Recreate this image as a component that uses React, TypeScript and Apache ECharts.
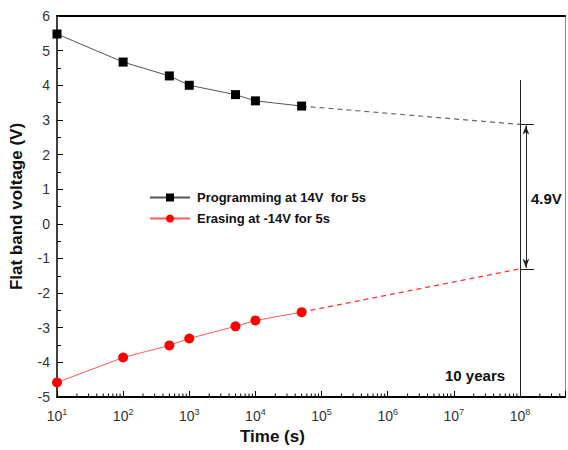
import React, { useEffect, useRef } from "react";
import * as echarts from "echarts";

const progTimes = [10, 100, 500, 1000, 5000, 10000, 50000];
const progValues = [5.48, 4.67, 4.27, 4.0, 3.73, 3.55, 3.4];
const eraseTimes = [10, 100, 500, 1000, 5000, 10000, 50000];
const eraseValues = [-4.58, -3.86, -3.51, -3.31, -2.96, -2.79, -2.55];
const extrapTimes = [50000, 1e8];
const progExtrap = [3.4, 2.87];
const eraseExtrap = [-2.55, -1.3];
const tenYears = 1e8;
const minorMultiples = [2, 3, 4, 5, 6, 7, 8, 9];
const minorDecades = [1e1, 1e2, 1e3, 1e4, 1e5, 1e6, 1e7];
const tailMinor = [2e8, 3e8, 4e8];

const FONT = "'Liberation Sans', Arial, sans-serif";

export default function App() {
  const ref = useRef<HTMLDivElement>(null);
  useEffect(() => {
    if (!ref.current) return;
    const chart = echarts.init(ref.current, null, { renderer: "svg" });
    const minorTicks: number[] = [];
    minorDecades.forEach((d) => minorMultiples.forEach((m) => minorTicks.push(m * d)));
    tailMinor.forEach((v) => minorTicks.push(v));

    const xLabel = (v: number) => {
      const e = Math.round(Math.log10(v));
      if (Math.abs(v / Math.pow(10, e) - 1) > 1e-6) return "";
      return `{b|10}{s|${e}}`;
    };

    chart.setOption({
      animation: false,
      textStyle: { fontFamily: FONT },
      grid: { left: 57, right: 1, top: 16, bottom: 53 },
      legend: {
        orient: "vertical",
        left: 144,
        top: 186,
        itemWidth: 40,
        itemHeight: 10,
        itemGap: 8,
        data: ["Programming at 14V  for 5s", "Erasing at -14V for 5s"],
        textStyle: { fontFamily: FONT, fontWeight: "bold", fontSize: 13, color: "#111", padding: [0, 0, 0, 2] },
      },
      xAxis: [
        {
          type: "log",
          logBase: 10,
          min: 10,
          max: 4.8e8,
          axisLine: { show: true, onZero: false, lineStyle: { color: "#000", width: 2 } },
          axisTick: { show: true, inside: true, length: 6, lineStyle: { color: "#000", width: 1 } },
          splitLine: { show: false },
          axisLabel: {
            margin: 10,
            formatter: xLabel,
            rich: {
              b: { fontSize: 14, color: "#333", fontFamily: FONT },
              s: { fontSize: 9, color: "#333", fontFamily: FONT, padding: [0, 0, 9, 0] },
            },
          },
        },
        {
          type: "log",
          logBase: 10,
          min: 10,
          max: 4.8e8,
          position: "top",
          axisLine: { show: true, onZero: false, lineStyle: { color: "#000", width: 2 } },
          axisTick: { show: false },
          axisLabel: { show: false },
          splitLine: { show: false },
        },
      ],
      yAxis: [
        {
          type: "value",
          min: -5,
          max: 6,
          interval: 1,
          axisLine: { show: true, onZero: false, lineStyle: { color: "#000", width: 1.5 } },
          axisTick: { show: true, inside: true, length: 6, lineStyle: { color: "#000" } },
          minorTick: { show: true, splitNumber: 2, length: 4, lineStyle: { color: "#000" } },
          splitLine: { show: false },
          axisLabel: { fontSize: 14, color: "#333", margin: 7, fontFamily: FONT },
          name: "Flat band voltage (V)",
          nameLocation: "middle",
          nameGap: 32,
          nameTextStyle: { fontSize: 17, fontWeight: "bold", color: "#111", fontFamily: FONT },
        },
        {
          type: "value",
          min: -5,
          max: 6,
          position: "right",
          axisLine: { show: true, onZero: false, lineStyle: { color: "#888", width: 1 } },
          axisTick: { show: false },
          axisLabel: { show: false },
          splitLine: { show: false },
        },
      ],
      graphic: [
        { type: "text", left: 240, top: 428, style: { text: "Time (s)", fontSize: 17, fontWeight: "bold", fill: "#111", fontFamily: FONT } },
        { type: "text", left: 445, top: 368, style: { text: "10 years", fontSize: 15, fontWeight: "bold", fill: "#111", fontFamily: FONT } },
        { type: "text", left: 531, top: 191, style: { text: "4.9V", fontSize: 15, fontWeight: "bold", fill: "#111", fontFamily: FONT } },
      ],
      series: [
        {
          name: "minorTicks",
          type: "custom",
          silent: true,
          clip: false,
          data: minorTicks.map((v) => [v, -5]),
          renderItem: (params: any, api: any) => {
            const p = api.coord([api.value(0), api.value(1)]);
            return {
              type: "line",
              shape: { x1: p[0], y1: p[1], x2: p[0], y2: p[1] - 3.5 },
              style: { stroke: "#000", lineWidth: 1 },
            };
          },
        },
        {
          name: "Programming at 14V  for 5s",
          type: "line",
          data: progTimes.map((t, i) => [t, progValues[i]]),
          symbol: "rect",
          symbolSize: 9,
          itemStyle: { color: "#000" },
          lineStyle: { color: "#555", width: 1 },
        },
        {
          name: "Erasing at -14V for 5s",
          type: "line",
          data: eraseTimes.map((t, i) => [t, eraseValues[i]]),
          symbol: "circle",
          symbolSize: 10,
          itemStyle: { color: "#ff0000" },
          lineStyle: { color: "#ff5a5a", width: 1 },
        },
        {
          name: "progExtrap",
          type: "line",
          data: extrapTimes.map((t, i) => [t, progExtrap[i]]),
          symbol: "none",
          lineStyle: { color: "#666", width: 1.2, type: [5, 4] },
          markLine: {
            silent: true,
            symbol: "none",
            label: { show: false },
            lineStyle: { color: "#222", width: 1, type: "solid" },
            data: [
              [{ coord: [tenYears, 4.15] }, { coord: [tenYears, -5] }],
              [{ coord: [tenYears, progExtrap[1]] }, { coord: [1.63e8, progExtrap[1]] }],
              [{ coord: [tenYears, eraseExtrap[1]] }, { coord: [1.63e8, eraseExtrap[1]] }],
              [
                { coord: [1.23e8, progExtrap[1] - 0.03], symbol: "arrow", symbolSize: [5, 9] },
                { coord: [1.23e8, eraseExtrap[1] + 0.03], symbol: "arrow", symbolSize: [5, 9] },
              ],
            ],
          },
        },
        {
          name: "eraseExtrap",
          type: "line",
          data: extrapTimes.map((t, i) => [t, eraseExtrap[i]]),
          symbol: "none",
          lineStyle: { color: "#ff3030", width: 1.2, type: [5, 4] },
        },
      ],
    });
    return () => chart.dispose();
  }, []);
  return <div ref={ref} style={{ width: 568, height: 450, position: "absolute", left: 0, top: 0 }} />;
}
